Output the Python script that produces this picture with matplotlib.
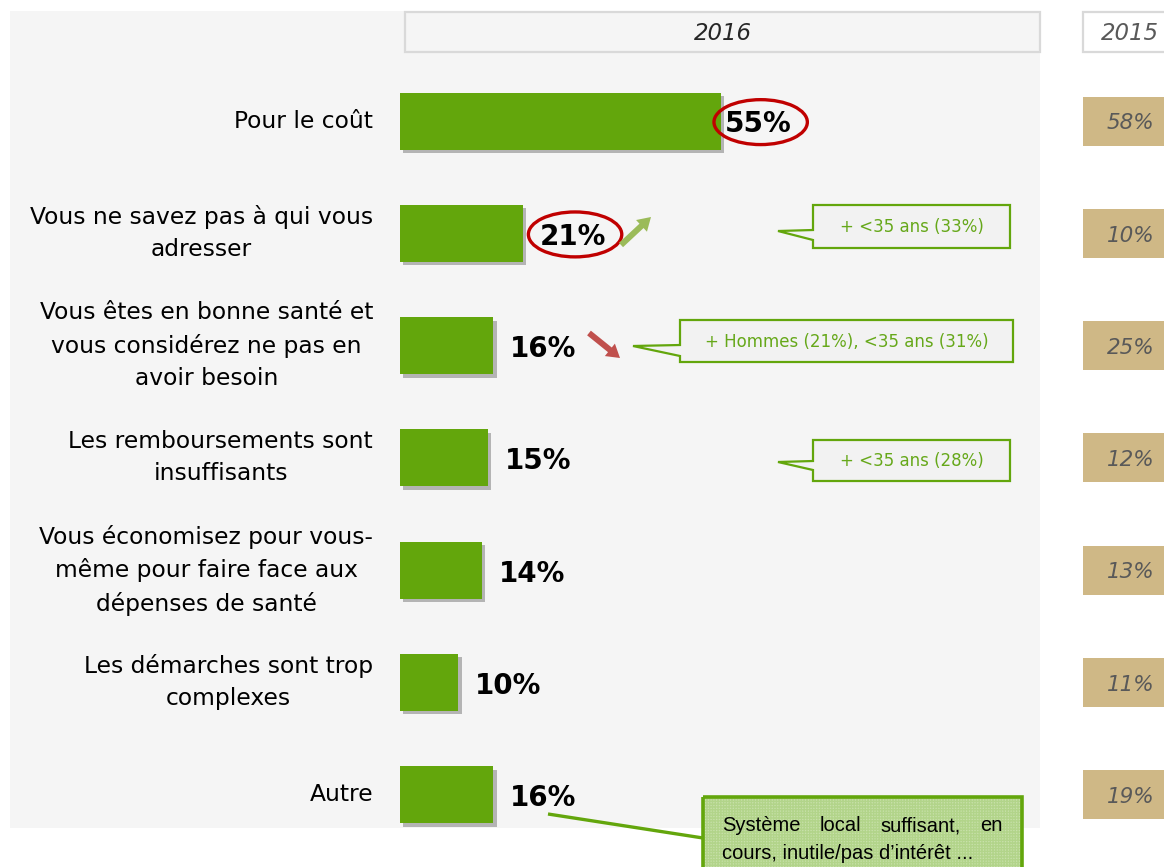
import matplotlib
matplotlib.use("Agg")
import matplotlib.pyplot as plt
from matplotlib.patches import Rectangle, Polygon, Ellipse, FancyArrow
import matplotlib.patheffects as pe

# ---------------- data ----------------
categories = [
    "Pour le coût",
    "Vous ne savez pas à qui vous\nadresser",
    "Vous êtes en bonne santé et\nvous considérez ne pas en\navoir besoin",
    "Les remboursements sont\ninsuffisants",
    "Vous économisez pour vous-\nmême pour faire face aux\ndépenses de santé",
    "Les démarches sont trop\ncomplexes",
    "Autre",
]
values_2016 = [55, 21, 16, 15, 14, 10, 16]
values_2015 = [58, 10, 25, 12, 13, 11, 19]
years = ["2016", "2015"]
callouts = {1: "+ <35 ans (33%)", 2: "+ Hommes (21%), <35 ans (31%)", 3: "+ <35 ans (28%)"}
circled = [0, 1]
autre_note = ["Système local suffisant, en", "cours, inutile/pas d\u2019intérêt ..."]

# ---------------- style ----------------
GREEN = "#63a60c"
TAN = "#cfb886"
PANEL = "#f5f5f5"
W, H = 1164, 867
PXU = 5.836          # pixels per percentage point
BAR0 = 400           # pixel x of value 0
ROW0, ROWH = 121, 112.3

fig = plt.figure(figsize=(W / 100, H / 100), dpi=100)
fig.patch.set_facecolor("white")

def fx(px):
    return px / W

def fy(py):
    return 1 - py / H

# main panel axes
ax = fig.add_axes([fx(10), fy(828), fx(1030), (828 - 11) / H])
ax.set_facecolor(PANEL)
ax.set_xlim((10 - BAR0) / PXU, (1040 - BAR0) / PXU)
ax.set_ylim((828 - ROW0) / ROWH, (11 - ROW0) / ROWH)
for s in ax.spines.values():
    s.set_visible(False)
ax.set_xticks([])
ax.set_yticks([])

ypos = list(range(len(categories)))
bars = ax.barh(ypos, values_2016, height=57 / ROWH, color=GREEN, zorder=3)
for b in bars:
    b.set_path_effects([pe.SimplePatchShadow(offset=(2.5, -2.5), shadow_rgbFace="#7f7f7f", alpha=0.55),
                        pe.Normal()])

for i, (cat, v) in enumerate(zip(categories, values_2016)):
    ax.text((373 - BAR0) / PXU, i, cat, ha="right", va="center", multialignment="center",
            fontsize=16.8, color="black", linespacing=1.5, family="DejaVu Sans")
    pad = 0.7 if i == 0 else 2.9
    ax.text(v + pad, i + 0.03, f"{v}%", ha="left", va="center", fontsize=20,
            fontweight="bold", color="black", zorder=5)
    if i in circled:
        cx = v + pad + 6.1
        ax.add_patch(Ellipse((cx, i + 0.01), 16.0, 0.40, fill=False, edgecolor="#c00000",
                             lw=2.4, zorder=6))

# 2015 column
ax2 = fig.add_axes([fx(1083), fy(828), fx(W - 1083), (828 - 11) / H])
ax2.set_xlim(0, 1)
ax2.set_ylim(ax.get_ylim())
ax2.axis("off")
ax2.barh(ypos, [1] * len(values_2015), height=49 / ROWH, left=0, color=TAN)
for i, v in enumerate(values_2015):
    ax2.text(0.88, i + 0.02, f"{v}%", ha="right", va="center", fontsize=15.5,
             fontstyle="italic", color="#595959")

# overlay in pixel coordinates for annotations
ov = fig.add_axes([0, 0, 1, 1])
ov.set_xlim(0, W)
ov.set_ylim(H, 0)
ov.axis("off")
ov.patch.set_visible(False)

# year headers
ov.add_patch(Rectangle((405, 12), 635, 40, facecolor=PANEL, edgecolor="#d9d9d9", lw=1.6))
ov.text(723, 33, years[0], ha="center", va="center", fontsize=16.5, fontstyle="italic", color="#262626")
ov.add_patch(Rectangle((1083, 12), 90, 40, facecolor="white", edgecolor="#d9d9d9", lw=1.6))
ov.text(1130, 33, years[1], ha="center", va="center", fontsize=16.5, fontstyle="italic", color="#595959")

# trend arrows
ov.add_patch(FancyArrow(621, 245, 30, -28, width=6, head_width=16, head_length=13,
                        length_includes_head=True, color="#9bbb59", lw=0))
ov.add_patch(FancyArrow(589, 333, 31, 25, width=6, head_width=16, head_length=13,
                        length_includes_head=True, color="#c0504d", lw=0))

# callouts
callout_geom = {
    1: (813, 1010, 205, 248, 778, 231, 230, 240),
    2: (680, 1013, 320, 362, 633, 346, 345, 356),
    3: (813, 1010, 440, 481, 778, 462, 461, 470),
}
for k, txt in callouts.items():
    x0, x1, y0, y1, tx, ty, a0, a1 = callout_geom[k]
    poly = [(x0, y0), (x1, y0), (x1, y1), (x0, y1), (x0, a1), (tx, ty), (x0, a0)]
    ov.add_patch(Polygon(poly, closed=True, facecolor="#f2f2f2", edgecolor=GREEN, lw=1.6,
                         joinstyle="miter"))
    ov.text((x0 + x1) / 2, (y0 + y1) / 2 + 1, txt, ha="center", va="center", fontsize=12,
            color="#66a81a")

# "Autre" note box
ov.plot([548, 703], [814, 838], color=GREEN, lw=2.4, solid_capstyle="butt")
ov.add_patch(Rectangle((703, 797), 319, 90, facecolor="#c8e1aa", edgecolor="none"))
ov.add_patch(Rectangle((703, 797), 319, 90, facecolor="none", edgecolor="#b2d48a",
                       hatch="++++++", lw=0))
ov.add_patch(Rectangle((703, 797), 319, 90, facecolor="none", edgecolor=GREEN, lw=2.6))

note_font = dict(fontsize=14.5, color="black",
                 family=["Liberation Sans Narrow", "Liberation Sans", "DejaVu Sans"])
renderer = fig.canvas.get_renderer()
words = autre_note[0].split(" ")
tw = [ov.text(0, 831, w, ha="left", va="baseline", **note_font) for w in words]
widths = [t.get_window_extent(renderer=renderer).width for t in tw]
gap = (1002 - 722 - sum(widths)) / (len(words) - 1)
x = 722
for t, w in zip(tw, widths):
    t.set_x(x)
    x += w + gap
ov.text(722, 859, autre_note[1], ha="left", va="baseline", **note_font)

fig.savefig("out.png", dpi=100, facecolor="white")
